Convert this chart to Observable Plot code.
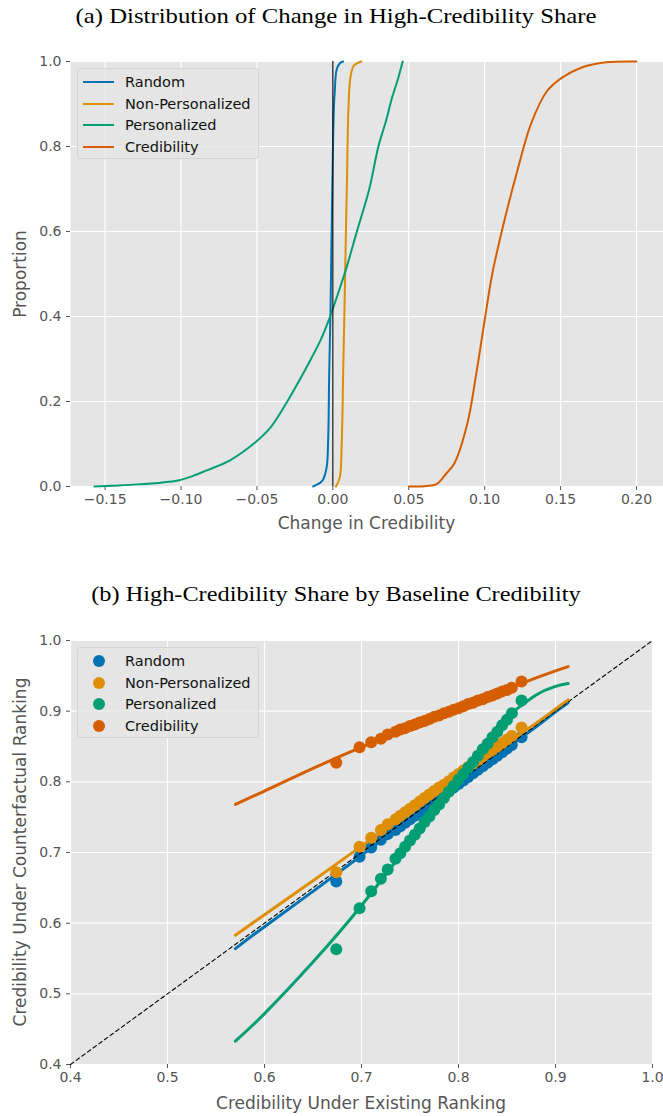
<!DOCTYPE html>
<html>
<head>
<meta charset="utf-8">
<script src="https://cdn.jsdelivr.net/npm/d3@7"></script>
<script src="https://cdn.jsdelivr.net/npm/@observablehq/plot@0.6"></script>
<style>
  body { margin: 0; background: #fff; }
  #root { position: relative; width: 663px; height: 1116px; overflow: hidden; font-family: "DejaVu Sans", sans-serif; }
  .title { position: absolute; left: 0; width: 672px; text-align: center; font-family: "Liberation Serif", serif; font-size: 22px; line-height: 24px; color: #000; white-space: nowrap; transform-origin: 336px 50%; }
  .xlabel { position: absolute; text-align: center; font-size: 17px; line-height: 20px; color: #555; white-space: nowrap; }
  .ylabel { position: absolute; font-size: 17px; line-height: 20px; color: #555; white-space: nowrap; transform: translate(-50%, -50%) rotate(-90deg); }
  .chart { position: absolute; left: 0; }
  .legend { position: absolute; background: rgba(229,229,229,0.8); border: 1px solid #d4d4d4; border-radius: 3px; box-sizing: border-box; }
  .legend .row { position: absolute; left: 0; height: 20px; line-height: 20px; font-size: 14.5px; color: #111; white-space: nowrap; }
  .legend .sw-line { position: absolute; left: 5px; top: 9px; width: 31px; height: 2px; }
  .legend .sw-dot { position: absolute; left: 15px; top: 4px; width: 12px; height: 12px; border-radius: 50%; }
  .legend .lbl { position: absolute; left: 47px; top: 0; }
</style>
</head>
<body>
<div id="root"></div>
<script>
// ---------- shared ----------
const seriesNames = ["Random", "Non-Personalized", "Personalized", "Credibility"];
const seriesColors = ["#0173B2", "#DE8F05", "#029E73", "#D55E00"];

// ---------- panel (a): ECDF of change in credibility ----------
const randomChange = [-0.013, -0.0118, -0.0068, -0.0041, -0.0031, -0.0024, -0.0015, -0.0009, -0.0002, 0.0007, 0.0013, 0.0024, 0.0046, 0.0068];
const randomProp   = [0, 0.002, 0.014, 0.045, 0.108, 0.266, 0.422, 0.579, 0.736, 0.893, 0.932, 0.979, 0.996, 1.0];

const nonPersChange = [0.0020, 0.0024, 0.0046, 0.0059, 0.0068, 0.0079, 0.0085, 0.0094, 0.0103, 0.0116, 0.0138, 0.0188];
const nonPersProp   = [0, 0.002, 0.022, 0.108, 0.266, 0.461, 0.579, 0.736, 0.893, 0.963, 0.990, 1.0];

const persChange = [-0.157, -0.145, -0.1286, -0.1135, -0.102, -0.092, -0.083, -0.068, -0.051, -0.041, -0.030, -0.022, -0.015, -0.008, -0.002, 0.004, 0.009, 0.016, 0.024, 0.030, 0.035, 0.039, 0.043, 0.046];
const persProp   = [0, 0.002, 0.005, 0.009, 0.014, 0.025, 0.038, 0.061, 0.104, 0.139, 0.2, 0.25, 0.296, 0.345, 0.398, 0.46, 0.515, 0.602, 0.70, 0.8, 0.86, 0.915, 0.96, 1.0];

const credChange = [0.050, 0.062, 0.0689, 0.0746, 0.080, 0.0886, 0.0945, 0.1004, 0.105, 0.113, 0.121, 0.1306, 0.141, 0.151, 0.164, 0.180, 0.200];
const credProp   = [0, 0.001, 0.007, 0.03, 0.054, 0.148, 0.266, 0.4, 0.5, 0.626, 0.736, 0.854, 0.93, 0.962, 0.986, 0.998, 1.0];

const xTicksA = [-0.15, -0.10, -0.05, 0.00, 0.05, 0.10, 0.15, 0.20];
const yTicksA = [0, 0.2, 0.4, 0.6, 0.8, 1.0];

// ---------- panel (b): binned credibility, existing vs counterfactual ----------
const binX = [0.674, 0.698, 0.710, 0.720, 0.727,
  0.735, 0.740, 0.745, 0.750, 0.755, 0.760, 0.765, 0.770, 0.775, 0.780, 0.785, 0.790, 0.795,
  0.800, 0.805, 0.810, 0.815, 0.820, 0.825, 0.830, 0.835, 0.840, 0.845, 0.850, 0.855, 0.865];
const randomBinY = [0.659, 0.694, 0.707, 0.718, 0.726,
  0.732, 0.737, 0.742, 0.747, 0.752, 0.757, 0.762, 0.767, 0.772, 0.777, 0.782, 0.787, 0.792,
  0.797, 0.802, 0.807, 0.812, 0.817, 0.822, 0.827, 0.832, 0.837, 0.842, 0.847, 0.852, 0.863];
const nonPersBinY = [0.672, 0.708, 0.721, 0.732, 0.740,
  0.747, 0.752, 0.757, 0.762, 0.767, 0.772, 0.777, 0.782, 0.787, 0.792, 0.796, 0.801, 0.806,
  0.811, 0.816, 0.821, 0.826, 0.831, 0.836, 0.841, 0.845, 0.850, 0.855, 0.860, 0.865, 0.877];
const persBinY = [0.563, 0.621, 0.645, 0.663, 0.676,
  0.691, 0.699, 0.708, 0.717, 0.725, 0.734, 0.743, 0.751, 0.760, 0.768, 0.777, 0.786, 0.794,
  0.803, 0.811, 0.820, 0.828, 0.837, 0.846, 0.854, 0.863, 0.871, 0.880, 0.888, 0.897, 0.915];
const credBinY = [0.827, 0.849, 0.856, 0.861, 0.867,
  0.871, 0.874, 0.876, 0.879, 0.881, 0.884, 0.886, 0.889, 0.892, 0.894, 0.897, 0.899, 0.902,
  0.904, 0.907, 0.910, 0.912, 0.915, 0.917, 0.920, 0.922, 0.925, 0.928, 0.930, 0.933, 0.942];

const fitX = [0.57, 0.60, 0.65, 0.70, 0.75, 0.80, 0.85, 0.865, 0.88, 0.90, 0.913];
const randomFitY  = [0.564, 0.595, 0.645, 0.696, 0.747, 0.797, 0.848, 0.863, 0.878, 0.899, 0.912];
const nonPersFitY = [0.583, 0.612, 0.660, 0.709, 0.757, 0.806, 0.854, 0.869, 0.883, 0.903, 0.916];
const persFitY    = [0.433, 0.472, 0.545, 0.625, 0.714, 0.803, 0.888, 0.908, 0.923, 0.935, 0.939];
const credFitY    = [0.768, 0.787, 0.819, 0.849, 0.877, 0.904, 0.931, 0.939, 0.947, 0.957, 0.963];

const diagonal = [0.4, 1.0];
const ticksB = [0.4, 0.5, 0.6, 0.7, 0.8, 0.9, 1.0];

// ---------- build tables ----------
const ecdfSets = [[randomChange, randomProp], [nonPersChange, nonPersProp], [persChange, persProp], [credChange, credProp]];
const ecdfData = ecdfSets.flatMap(([xs, ps], i) => xs.map((x, j) => ({series: seriesNames[i], change: x, prop: ps[j]})));

const binSets = [randomBinY, nonPersBinY, persBinY, credBinY];
const fitSets = [randomFitY, nonPersFitY, persFitY, credFitY];
const binData = i => binX.map((x, j) => ({series: seriesNames[i], x, y: binSets[i][j]}));
const fitData = i => fitX.map((x, j) => ({series: seriesNames[i], x, y: fitSets[i][j]}));

const colorScale = {domain: seriesNames, range: seriesColors};
const fmt2 = d3.format(".2f");
const fmt1 = d3.format(".1f");
const bg = "#E5E5E5";

const root = document.getElementById("root");
function addDiv(cls, text, css) {
  const d = document.createElement("div");
  d.className = cls;
  if (text != null) d.textContent = text;
  Object.assign(d.style, css);
  root.appendChild(d);
  return d;
}

// ---------- panel (a) ----------
addDiv("title", "(a) Distribution of Change in High-Credibility Share", {top: "4px", transform: "scaleX(1.125)"});

const plotA = Plot.plot({
  width: 663, height: 545,
  marginTop: 61, marginBottom: 59, marginLeft: 70, marginRight: 0,
  style: {fontFamily: "DejaVu Sans, sans-serif", fontSize: "14px", color: "#555", background: "transparent"},
  x: {domain: [-0.1728, 0.2178]},
  y: {domain: [0, 1]},
  color: colorScale,
  marks: [
    Plot.frame({fill: bg, stroke: "none"}),
    Plot.gridX({ticks: xTicksA, stroke: "white", strokeOpacity: 1, strokeWidth: 1.2}),
    Plot.gridY({ticks: yTicksA, stroke: "white", strokeOpacity: 1, strokeWidth: 1.2}),
    Plot.axisX({ticks: xTicksA, tickFormat: fmt2, tickSize: 4, tickPadding: 4, label: null, stroke: "#555"}),
    Plot.axisY({ticks: yTicksA, tickFormat: fmt1, tickSize: 4, tickPadding: 5, label: null, stroke: "#555"}),
    Plot.line(ecdfData, {x: "change", y: "prop", z: "series", stroke: "series", strokeWidth: 2, curve: "catmull-rom"}),
    Plot.ruleX([0], {stroke: "#111", strokeWidth: 1.2})
  ]
});
plotA.classList.add("chart");
plotA.style.top = "0px";
root.appendChild(plotA);

addDiv("xlabel", "Change in Credibility", {left: "70px", width: "593px", top: "513px"});
addDiv("ylabel", "Proportion", {left: "20px", top: "274px"});

function legend(top, type) {
  const box = addDiv("legend", null, {left: "77px", top: top + "px", width: "182px", height: "91px"});
  seriesNames.forEach((name, i) => {
    const row = document.createElement("div");
    row.className = "row";
    row.style.top = (3 + i * 21.5) + "px";
    row.style.width = "100%";
    const sw = document.createElement("div");
    sw.className = type === "line" ? "sw-line" : "sw-dot";
    sw.style.background = seriesColors[i];
    const lb = document.createElement("div");
    lb.className = "lbl";
    lb.textContent = name;
    row.appendChild(sw); row.appendChild(lb);
    box.appendChild(row);
  });
}
legend(68, "line");

// ---------- panel (b) ----------
addDiv("title", "(b) High-Credibility Share by Baseline Credibility", {top: "582px", transform: "scaleX(1.105)"});

const marksB = [
  Plot.frame({fill: bg, stroke: "none"}),
  Plot.gridX({ticks: ticksB, stroke: "white", strokeOpacity: 1, strokeWidth: 1.2}),
  Plot.gridY({ticks: ticksB, stroke: "white", strokeOpacity: 1, strokeWidth: 1.2}),
  Plot.axisX({ticks: ticksB, tickFormat: fmt1, tickSize: 4, tickPadding: 4, label: null, stroke: "#555"}),
  Plot.axisY({ticks: ticksB, tickFormat: fmt1, tickSize: 4, tickPadding: 5, label: null, stroke: "#555"})
];
seriesNames.forEach((name, i) => {
  marksB.push(Plot.dot(binData(i), {x: "x", y: "y", fill: "series", r: 6, stroke: "none"}));
  marksB.push(Plot.line(fitData(i), {x: "x", y: "y", stroke: "series", strokeWidth: 3, curve: "natural"}));
  if (i === 0) {
    marksB.push(Plot.line(diagonal.map(v => ({x: v, y: v})), {x: "x", y: "y", stroke: "#000", strokeWidth: 1.1, strokeDasharray: "4,3"}));
  }
});

const plotB = Plot.plot({
  width: 663, height: 571,
  marginTop: 95, marginBottom: 52, marginLeft: 70, marginRight: 11,
  style: {fontFamily: "DejaVu Sans, sans-serif", fontSize: "14px", color: "#555", background: "transparent", overflow: "visible"},
  x: {domain: [0.4, 1.0]},
  y: {domain: [0.4, 1.0]},
  color: colorScale,
  marks: marksB
});
plotB.classList.add("chart");
plotB.style.top = "545px";
root.appendChild(plotB);

addDiv("xlabel", "Credibility Under Existing Ranking", {left: "70px", width: "582px", top: "1093px"});
addDiv("ylabel", "Credibility Under Counterfactual Ranking", {left: "20px", top: "852px"});

legend(647, "dot");
</script>
</body>
</html>
